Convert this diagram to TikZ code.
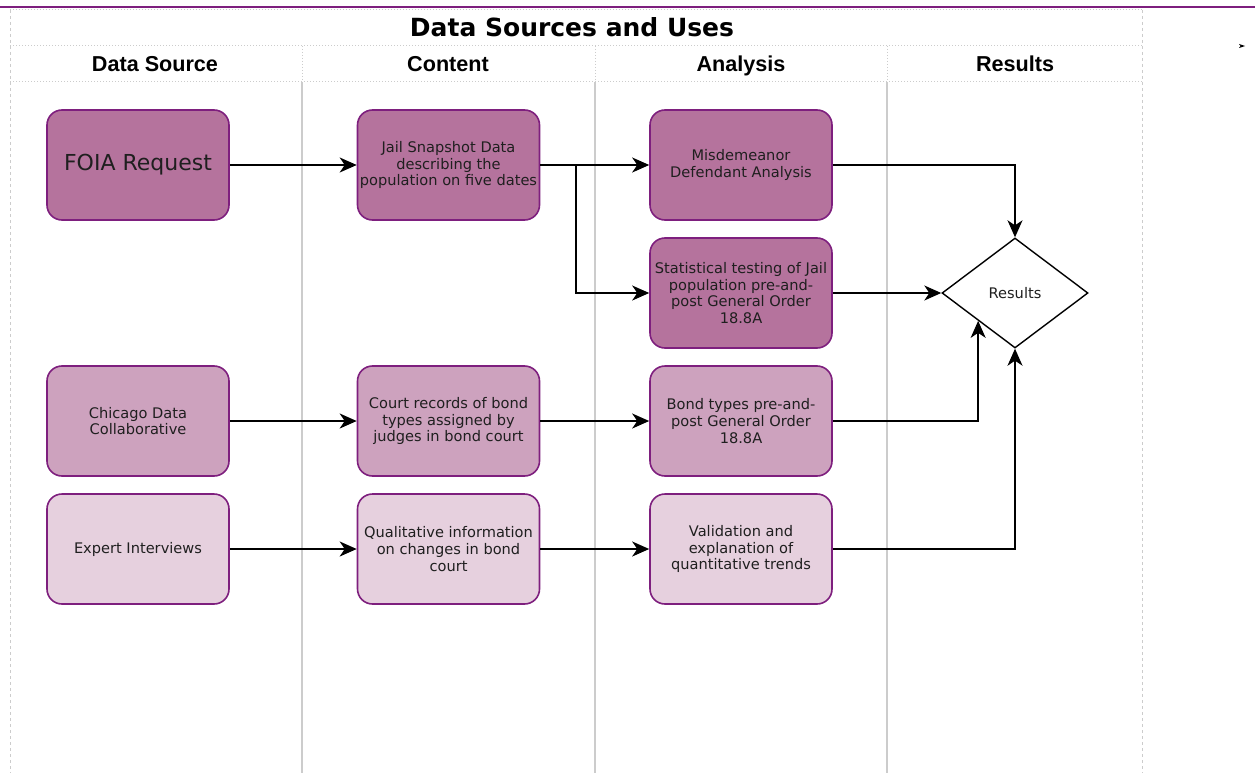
\documentclass[tikz,border=0pt]{standalone}
\usepackage{fontspec}
\setmainfont{DejaVu Sans}
\newfontfamily\hdrfont{Liberation Sans}
\usetikzlibrary{shapes.geometric,arrows.meta}
\definecolor{fdark}{HTML}{B5739D}
\definecolor{fmid}{HTML}{CDA2BE}
\definecolor{flight}{HTML}{E6D0DE}
\definecolor{pstroke}{HTML}{7E1F7E}
\definecolor{gridc}{HTML}{CCCCCC}
\tikzset{
  boxnode/.style={draw=pstroke, line width=1.6pt, rounded corners=15pt,
    minimum width=182pt, minimum height=110pt, align=center, inner sep=2pt,
    font=\fontsize{14.6}{16.7}\selectfont, text=black!88},
  darkbox/.style={boxnode, fill=fdark},
  midbox/.style={boxnode, fill=fmid},
  lightbox/.style={boxnode, fill=flight},
  conn/.style={line width=1.7pt, -{Stealth[length=17pt,width=15pt,inset=5pt]}},
  hdr/.style={font=\hdrfont\bfseries\fontsize{21.6}{24}\selectfont, anchor=base},
  gridline/.style={gridc, line width=1pt, dotted},
  coldiv/.style={gridc, line width=1.4pt},
}
\begin{document}
\begin{tikzpicture}[x=1pt,y=-1pt]
\useasboundingbox (0,0) rectangle (1255,773);
% top purple line
\draw[pstroke, line width=2pt] (0,7) -- (1255,7);
% frame
\draw[gridline] (10,10) -- (1142,10);
\draw[gridline] (10,46) -- (1142,46);
\draw[gridline] (10,82) -- (1142,82);
\draw[gridc, line width=1pt, dashed] (10,10) -- (10,773);
\draw[gridc, line width=1pt, dashed] (1142,10) -- (1142,773);
\foreach \xx in {302,595,887} {
  \draw[gridline] (\xx,46) -- (\xx,82);
  \draw[coldiv] (\xx,82) -- (\xx,773);
}
% title and headers
\node[font=\bfseries\fontsize{25}{28}\selectfont, anchor=base] (title) at (572,37) {Data Sources and Uses};
\node[hdr] (h1) at (155,72) {Data Source};
\node[hdr] (h2) at (448,72) {Content};
\node[hdr] (h3) at (741,72) {Analysis};
\node[hdr] (h4) at (1015,72) {Results};
% small arrowhead mark
\fill (1239,44) -- (1245,46) -- (1239,48) -- (1240.5,46) -- cycle;
% boxes
\node[darkbox, font=\fontsize{22}{26}\selectfont] (foia) at (138,165) {FOIA Request};
\node[darkbox] (jail) at (448.5,165) {Jail Snapshot Data\\describing the\\population on five dates};
\node[darkbox] (misd) at (741,165) {Misdemeanor\\Defendant Analysis};
\node[darkbox] (stat) at (741,293) {Statistical testing of Jail\\population pre-and-\\post General Order\\18.8A};
\node[midbox] (chic) at (138,421) {Chicago Data\\Collaborative};
\node[midbox] (court) at (448.5,421) {Court records of bond\\types assigned by\\judges in bond court};
\node[midbox] (bond) at (741,421) {Bond types pre-and-\\post General Order\\18.8A};
\node[lightbox] (expert) at (138,549) {Expert Interviews};
\node[lightbox] (qual) at (448.5,549) {Qualitative information\\on changes in bond\\court};
\node[lightbox] (valid) at (741,549) {Validation and\\explanation of\\quantitative trends};
\node[draw=black, line width=1.4pt, diamond, minimum width=146pt, minimum height=110pt, inner sep=0pt,
      font=\fontsize{14.6}{16.7}\selectfont, text=black!88] (res) at (1015,293) {Results};
% connectors
\draw[conn] (foia) -- (jail);
\draw[conn] (jail) -- (misd);
\coordinate (split) at (576,165);
\draw[conn] (jail.east) -- (split) |- (stat.west);
\draw[conn] (misd.east) -| (res.north);
\draw[conn] (stat.east) -- (res.west);
\draw[conn] (chic) -- (court);
\draw[conn] (court) -- (bond);
\draw[conn] (bond.east) -| (res.south west);
\draw[conn] (expert) -- (qual);
\draw[conn] (qual) -- (valid);
\draw[conn] (valid.east) -| (res.south);
\end{tikzpicture}
\end{document}
